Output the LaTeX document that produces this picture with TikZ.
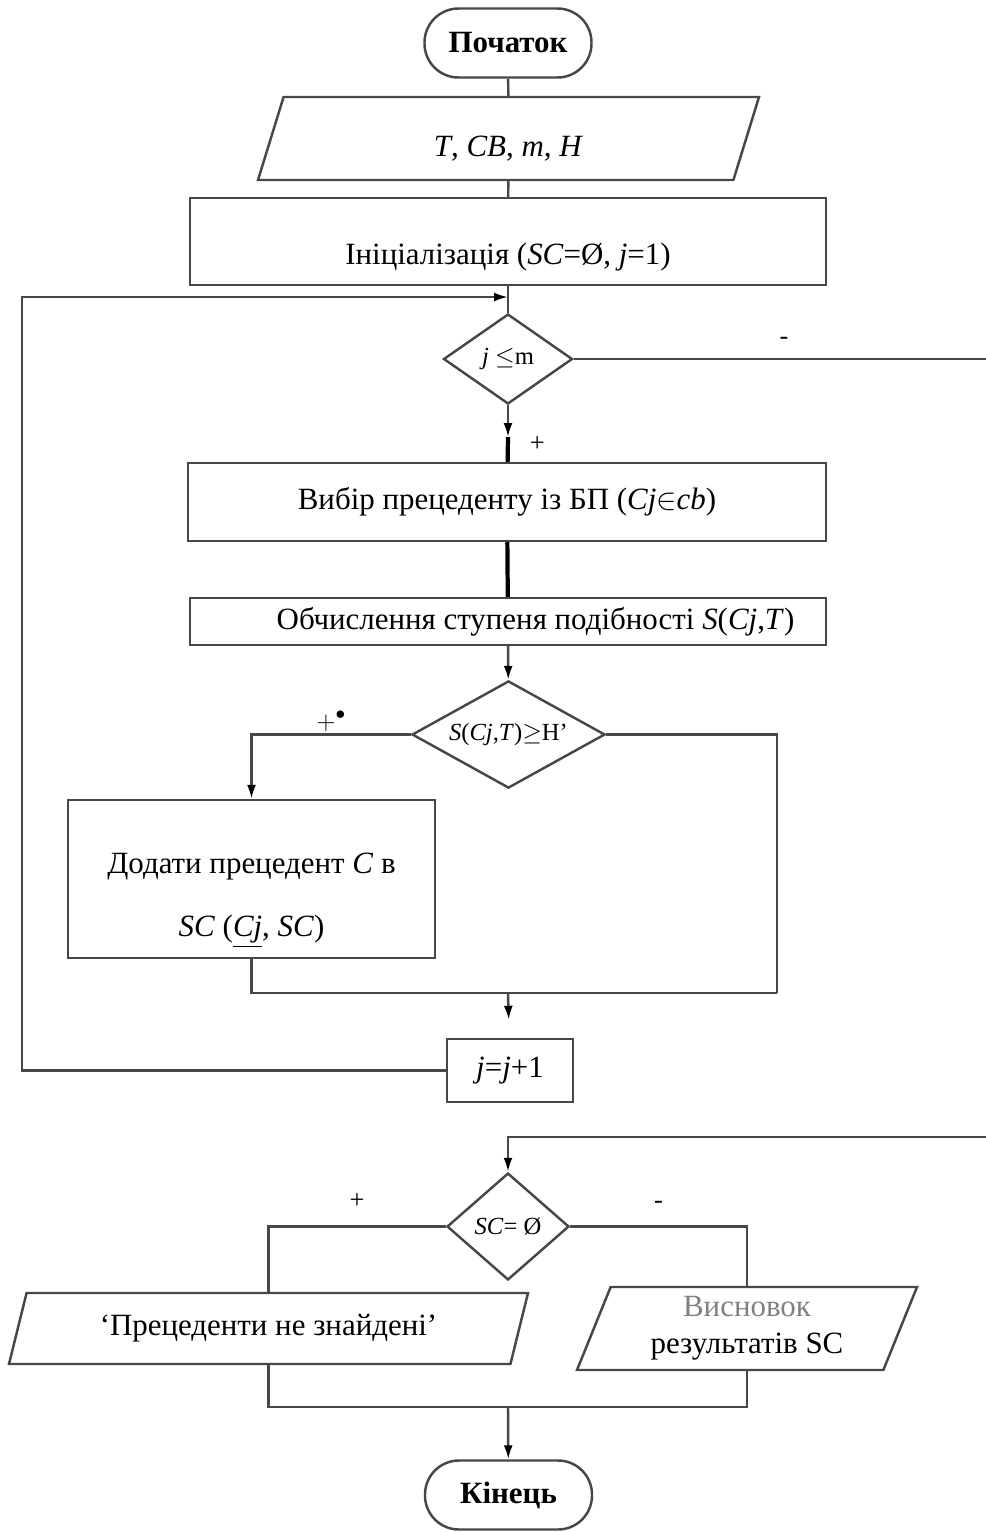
\documentclass[tikz,border=0pt]{standalone}
\usepackage{fontspec}
\setmainfont{Liberation Serif}
\usepackage{tikz}
\usetikzlibrary{arrows.meta,shapes,positioning,calc}

\begin{document}
\begin{tikzpicture}[
    >={Latex[length=0.28cm, width=0.18cm, color=black]},
    line width=1.4pt,
    color=black!72,
    every node/.style={text=black},
    terminal/.style={draw, rectangle, rounded corners=0.68cm, minimum width=3.34cm, minimum height=1.38cm, font=\fontsize{17.6}{21}\selectfont\bfseries},
    block/.style={draw, rectangle, align=center, font=\fontsize{17.6}{21}\selectfont},
    io/.style={draw, trapezium, trapezium left angle=66, trapezium right angle=114, trapezium stretches body, align=center, font=\fontsize{17.6}{21}\selectfont},
    decision/.style={draw, diamond, aspect=1.4, inner sep=0pt, font=\fontsize{14}{16}\selectfont},
    sign/.style={font=\fontsize{15}{18}\selectfont},
    heavy/.style={line width=2.4pt, draw=black}
]
    \useasboundingbox (0,0) rectangle (19.72,-30.64);

    \node[terminal] (Start) at (10.16, -0.86) {Початок};
    \node[io, minimum width=10.02cm, minimum height=1.66cm, text height=0.82cm] (Input) at (10.17, -2.77) {\textit{T}, \textit{CB}, \textit{m}, \textit{H}};
    \node[block, minimum width=12.72cm, minimum height=1.74cm, text height=1.05cm] (Init) at (10.16, -4.83) {Ініціалізація (\textit{SC}=Ø, \textit{j}=1)};
    \node[decision, minimum width=2.58cm, minimum height=1.8cm] (CondJ) at (10.16, -7.18) {\textit{j} $\le$m};
    \node[block, minimum width=12.76cm, minimum height=1.56cm] (Select) at (10.14, -10.04) {Вибір прецеденту із БП (\textit{Cj}$\in$\textit{cb})};
    \node[block, minimum width=12.72cm, minimum height=0.94cm] (Sim) at (10.16, -12.43) {\hspace*{1.1cm}Обчислення ступеня подібності \textit{S}(\textit{Cj},\textit{T})};
    \node[decision, minimum width=3.86cm, minimum height=2.06cm] (CondS) at (10.17, -14.69) {\textit{S}(\textit{Cj},\textit{T})$\ge$H'};
    \node[block, minimum width=7.34cm, minimum height=3.16cm, font=\fontsize{17.6}{36}\selectfont] (Add) at (5.03, -17.58) {\rule{0pt}{1.25cm}Додати прецедент \textit{C} в\\\textit{SC} (\underline{\textit{Cj}}, \textit{SC})};
    \node[block, minimum width=2.52cm, minimum height=1.26cm] (Inc) at (10.2, -21.41) {\textit{j}=\textit{j}+1};
    \node[decision, minimum width=2.44cm, minimum height=2.14cm] (CondSC) at (10.16, -24.53) {\textit{SC}= Ø};
    \node[io, minimum width=10.38cm, minimum height=1.42cm] (NotFound) at (5.37, -26.57) {‘Прецеденти не знайдені’};
    \node[io, minimum width=6.8cm, minimum height=1.66cm] (Output) at (14.94, -26.57) {{\color{gray}Висновок}\\результатів SC};
    \node[terminal] (End) at (10.17, -29.9) {Кінець};

    \coordinate (LoopIn)   at (10.16, -5.94);
    \coordinate (LoopLeft) at (0.44, -5.94);
    \coordinate (ExitJ)    at (19.72, -7.18);
    \coordinate (ArrJ)     at (10.16, -8.74);
    \coordinate (JoinS)    at (15.54, -19.86);
    \coordinate (MergeS)   at (10.16, -19.86);
    \coordinate (EntrySC)  at (19.72, -22.74);
    \coordinate (MergeSC)  at (10.16, -28.14);

    \draw (Start) -- (Input);
    \draw (Input) -- (Init);
    \draw (Init) -- (CondJ);
    \draw[->] (Inc.west) -| (LoopLeft) -- (LoopIn);

    \draw (CondJ.east) -- (ExitJ) node[sign, pos=0.51, above=4pt] {-};
    \draw[->] (CondJ) -- (ArrJ);
    \draw[heavy] (ArrJ) -- (Select) node[sign, pos=0.3, right=8pt] {+};
    \draw[heavy] (Select) -- (Sim);
    \draw[->] (Sim) -- (CondS);

    \draw[->] (CondS.west) -| (Add.north) node[sign, pos=0.25, above=-2pt] {$+^{\bullet}$};
    \draw (CondS.east) -| (JoinS);
    \draw (Add.south) |- (JoinS);
    \draw[->, shorten >=0.36cm] (MergeS) -- (Inc);

    \draw[->] (EntrySC) -| (CondSC.north);
    \draw (CondSC.west) -| (NotFound.center |- NotFound.north) node[sign, pos=0.25, above=6pt] {+};
    \draw (CondSC.east) -| (Output.north) node[sign, pos=0.25, above=6pt] {-};
    \draw (NotFound.center |- NotFound.south) |- (MergeSC) -| (Output.south);
    \draw[->] (MergeSC) -- (End);

\end{tikzpicture}
\end{document}
